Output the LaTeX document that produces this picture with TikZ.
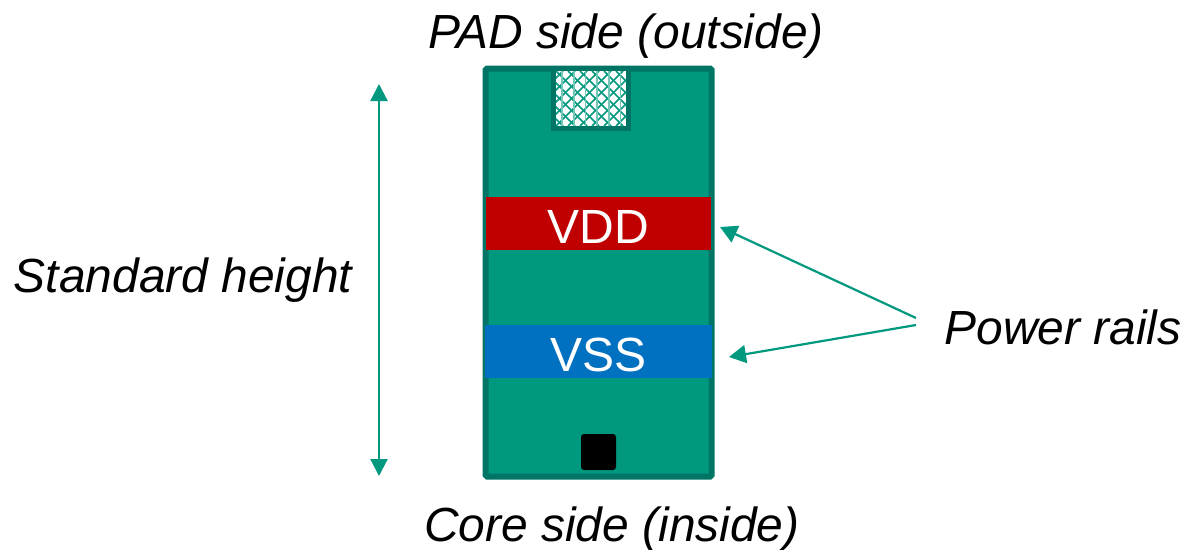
\documentclass[tikz,border=0pt]{standalone}
\usepackage{fontspec}
\setmainfont{Liberation Sans}
\usetikzlibrary{arrows.meta}
\definecolor{tealfill}{HTML}{009980}
\definecolor{tealedge}{HTML}{007565}
\definecolor{vddred}{HTML}{C00000}
\definecolor{vssblue}{HTML}{0070C0}
\tikzset{
  lab/.style={font=\fontsize{47.9}{48}\selectfont\itshape, text=black, inner sep=0pt, anchor=base},
  rail/.style={font=\fontsize{48}{48}\selectfont, text=white, inner sep=0pt, text height=39pt, text depth=0pt, minimum width=#1, minimum height=53pt},
  conn/.style={draw=tealfill, line width=2.2pt},
  head/.style={-{Triangle[length=17pt,width=18pt]}},
  bothhead/.style={{Triangle[length=17pt,width=17pt]}-{Triangle[length=17pt,width=17pt]}},
  hatch/.style={draw=tealfill, line width=1.7pt},
}
\begin{document}
\begin{tikzpicture}[x=1pt,y=-1pt]
\useasboundingbox (0,0) rectangle (1182,549);
% cell body
\node (cell) [draw=tealedge, fill=tealfill, line width=6pt, rounded corners=1.5pt, inner sep=0pt, minimum width=226pt, minimum height=408pt] at (598.5,272.5) {};
% pad
\node (pad) [draw=tealedge, fill=white, line width=5.5pt, inner sep=0pt, minimum width=75pt, minimum height=60pt] at (591,98.5) {};
\begin{scope}
\clip (556,71) rectangle (626,126);
\foreach \i in {-6,...,12} {
  \draw[hatch] ({556+\i*12},71) -- ({556+\i*12+55},126);
  \draw[hatch] ({556+\i*12+55},71) -- ({556+\i*12},126);
}
\foreach \i in {0,...,5} {
  \draw[draw=tealfill!55, line width=1.6pt] ({562+\i*11.7},71) -- ({562+\i*11.7},126);
}
\end{scope}
% rails
\node (vdd) [rail=225pt, fill=vddred] at (598.5,223.5) {VDD};
\node (vss) [rail=227pt, fill=vssblue] at (598.5,351.5) {VSS};
% core pin
\node (pin) [fill=black, rounded corners=3pt, inner sep=0pt, minimum width=35pt, minimum height=36pt] at (598.5,452) {};
% labels
\node (padlab) [lab] at (626,48) {PAD side (outside)};
\node (corelab) [lab] at (612,541) {Core side (inside)};
\node (stdlab) [lab] at (183,292) {Standard height};
\node (powerlab) [lab] at (1063,344) {Power rails};
% connectors
\coordinate (top) at (379,84);
\coordinate (bot) at (379,476);
\coordinate (p1) at (916,318);
\coordinate (p2) at (916,325);
\coordinate (t1) at (720,227);
\coordinate (t2) at (729,357);
\draw[conn, bothhead] (top) -- (bot);
\draw[conn, head] (p1) -- (t1);
\draw[conn, head] (p2) -- (t2);
\end{tikzpicture}
\end{document}
